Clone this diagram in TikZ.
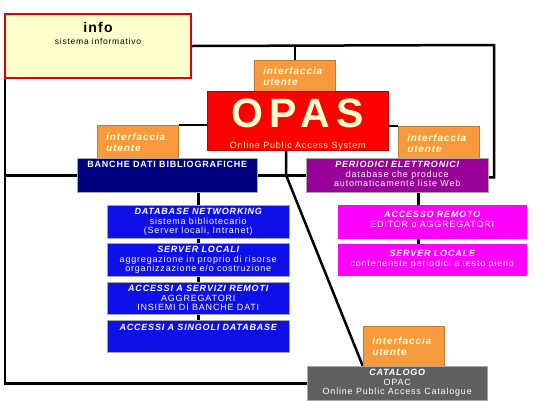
\documentclass[tikz,border=0pt]{standalone}
\usepackage{fontspec}
\setmainfont[LetterSpace=9]{Liberation Sans}
\usetikzlibrary{positioning,calc,backgrounds}
\definecolor{cream}{HTML}{FFFFCC}
\definecolor{infored}{HTML}{E00000}
\definecolor{ifcol}{HTML}{F7993D}
\definecolor{navyb}{HTML}{000080}
\definecolor{blueb}{HTML}{0F0FE8}
\definecolor{purpb}{HTML}{990099}
\definecolor{magb}{HTML}{FF00FF}
\definecolor{catb}{HTML}{5F5F5F}
\newcommand\hd{\bfseries\itshape}
\tikzset{
  box/.style={anchor=north west,rectangle,inner sep=0pt,draw=gray!70,line width=.5pt},
  tt/.style={anchor=north,inner sep=1.5pt,yshift=-2pt,align=center,text=white,font=\fontsize{9}{9.5}\selectfont},
  iface/.style={box,fill=ifcol,draw=ifcol!80!black,text=cream,align=left,inner xsep=9pt,
    text width=63pt,font=\fontsize{10}{11}\selectfont\hd},
  conn/.style={line width=2.5pt,black},
}
\begin{document}
\begin{tikzpicture}[x=1pt,y=-1pt]
\useasboundingbox (0,0) rectangle (540,400);

% interfacce utente
\node[iface,minimum height=32] (ifop) at (254,60) {interfaccia\\utente};
\node[iface,minimum height=34] (ifbd) at (97,125) {interfaccia\\utente};
\node[iface,minimum height=34] (ifpe) at (398,126) {interfaccia\\utente};
\node[iface,minimum height=40] (ifcat) at (363,326) {interfaccia\\utente};

% info e OPAS
\node[box,fill=cream,draw=infored,line width=2pt,minimum width=186,minimum height=64,
  label={[tt,text=black,yshift=-6pt]north:{\fontsize{14}{14}\selectfont\bfseries info}\\[2pt]{\fontsize{8.5}{9}\selectfont sistema informativo}}] (info) at (4,13) {};
\node[box,fill=red,draw=red!70!black,minimum width=181,minimum height=59,
  label={[tt,yshift=0pt,text=cream,anchor=south,font=\fontsize{9}{10}\selectfont]south:Online Public Access System}] (opas) at (207,91) {};
\node[text=cream,font=\fontsize{41}{41}\selectfont\bfseries\addfontfeatures{LetterSpace=15},inner sep=0pt,
  below=8pt of opas.north] (opast) {OPAS};

% banche dati bibliografiche
\node[box,fill=navyb,minimum width=180,minimum height=34,
  label={[tt,font=\fontsize{9}{9.5}\selectfont\bfseries]north:BANCHE DATI BIBLIOGRAFICHE}] (banche) at (77,158) {};
\node[box,fill=blueb,minimum width=182,minimum height=33,
  label={[tt]north:{\hd DATABASE NETWORKING}\\sistema bibliotecario\\(Server locali, Intranet)}] (dbnet) at (107,205) {};
\node[box,fill=blueb,minimum width=182,minimum height=33,
  label={[tt]north:{\hd SERVER LOCALI}\\aggregazione in proprio di risorse\\organizzazione e/o costruzione}] (srvloc) at (107,243) {};
\node[box,fill=blueb,minimum width=182,minimum height=32,
  label={[tt]north:{\hd ACCESSI A SERVIZI REMOTI}\\AGGREGATORI\\INSIEMI DI BANCHE DATI}] (accrem) at (107,282) {};
\node[box,fill=blueb,minimum width=182,minimum height=32,
  label={[tt,yshift=-1pt]north:{\hd ACCESSI A SINGOLI DATABASE}}] (accsing) at (107,320) {};

% periodici elettronici
\node[box,fill=purpb,minimum width=182,minimum height=34,
  label={[tt]north:{\hd PERIODICI ELETTRONICI}\\database che produce\\automaticamente liste Web}] (period) at (306,158) {};
\node[box,fill=magb,draw=magb,minimum width=188,minimum height=33,
  label={[tt,yshift=-3pt]north:{\hd ACCESSO REMOTO}\\EDITOR o AGGREGATORI}] (accrm) at (338,205) {};
\node[box,fill=magb,draw=magb,minimum width=188,minimum height=31,
  label={[tt,yshift=-3pt]north:{\hd SERVER LOCALE}\\contenenste periodici a testo pieno}] (srvlocale) at (338,244) {};

% catalogo
\node[box,fill=catb,minimum width=180,minimum height=34,
  label={[tt]north:{\hd CATALOGO}\\OPAC\\Online Public Access Catalogue}] (catalogo) at (307,366) {};

% connettori
\begin{scope}[on background layer]
\coordinate (hub) at (286,175);
\coordinate (tr) at (494,45);
\draw[conn] (info.east) -- (tr) |- ([yshift=-2pt]period.east);
\draw[conn] (ifop.north) -- (ifop.north |- tr);
\draw[conn] (ifbd.north east) -- (ifbd.north east -| opas.west);
\draw[conn] (ifpe.north west) -- (ifpe.north west -| opas.east);
\draw[conn] ([xshift=1pt]info.south west) |- (catalogo.west);
\draw[conn] (banche.west) -- (banche.west -| info.south west);
\draw[conn] (banche.east) -- (period.west);
\draw[conn] (hub |- opas.south) -- (hub) -- (ifcat.south west);
\draw[conn] (dbnet.north |- banche.south) -- (dbnet.north);
\foreach \a/\b in {dbnet/srvloc,srvloc/accrem,accrem/accsing}
  \draw[conn] (\a.south) -- (\b.north);
\draw[conn] ([xshift=-14pt]accrm.north) -- ([xshift=-14pt]accrm.north |- period.south);
\draw[conn] ([xshift=-14pt]accrm.south) -- ([xshift=-14pt]srvlocale.north);
\end{scope}
\end{tikzpicture}
\end{document}
